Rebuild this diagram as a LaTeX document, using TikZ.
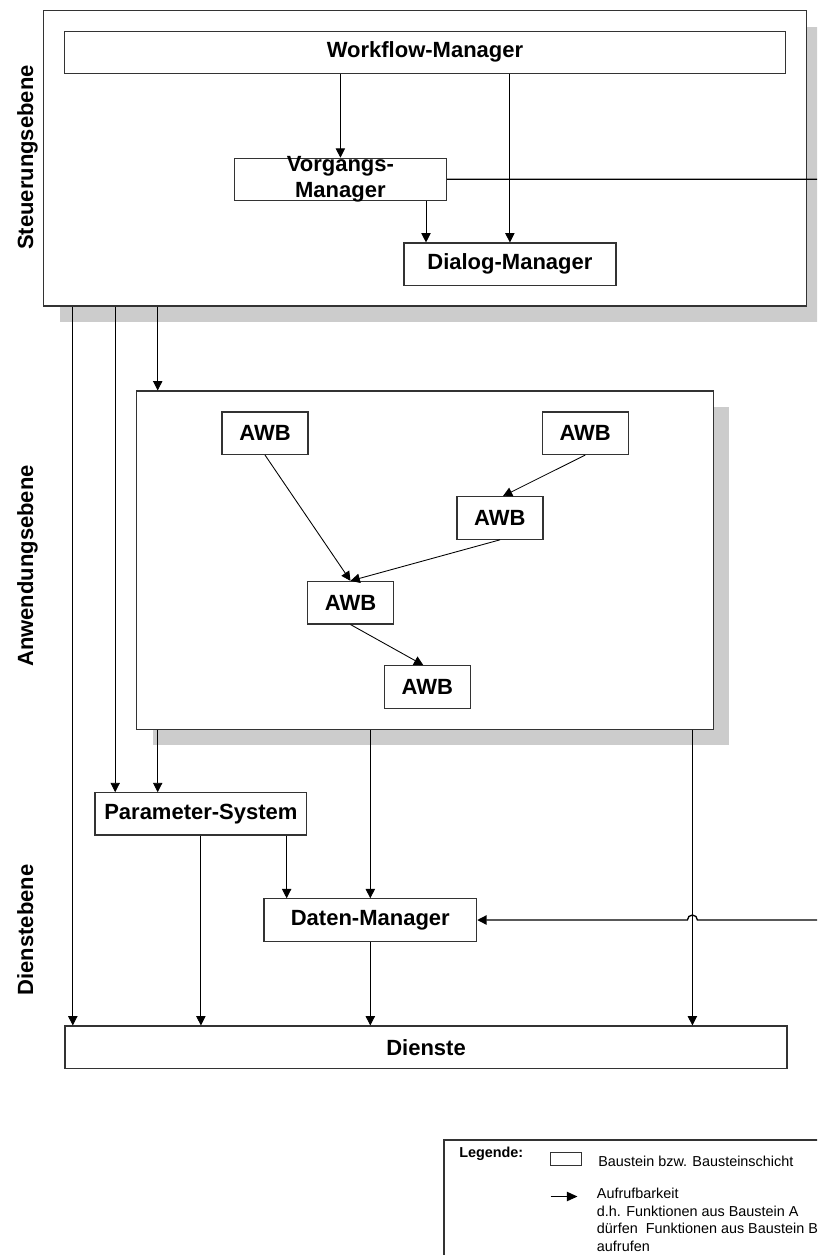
\documentclass[tikz,border=0pt]{standalone}
\usepackage{fontspec}
\setmainfont{Liberation Sans}
\usetikzlibrary{arrows.meta,calc}
\definecolor{shadowgray}{HTML}{CCCCCC}
\definecolor{framegray}{HTML}{333333}
\newcommand{\pxu}{0.75pt}

\begin{document}
\begin{tikzpicture}[x=0.75pt,y=0.75pt,
  box/.style={draw=framegray,line width=0.9pt,fill=white,rectangle,inner sep=0pt,
    font=\fontsize{16.5}{20}\selectfont\bfseries},
  smallbox/.style={box,minimum width=212*\pxu,minimum height=42.3*\pxu},
  awb/.style={box,minimum width=86*\pxu,minimum height=42.5*\pxu},
  layer/.style={draw=framegray,line width=0.9pt,fill=white,inner sep=0pt},
  shade/.style={fill=shadowgray,draw=none},
  arr/.style={line width=0.65pt,-{Triangle[length=7pt,width=7pt]}},
  conn/.style={line width=1pt,-{Triangle[length=7pt,width=7pt]}},
  side/.style={rotate=90,anchor=base,inner sep=0pt,font=\fontsize{16.5}{20}\selectfont\bfseries},
  legtext/.style={anchor=base west,inner sep=0pt,font=\fontsize{10.8}{13.3}\selectfont}
]
\useasboundingbox (0,0) rectangle (817,-1255);
\clip (0,0) rectangle (817,-1255);

% layer shadows
\fill[shade] (59.75,-26.7) rectangle (822.8,-322);
\fill[shade] (152.8,-407) rectangle (729.4,-745.3);

% layers
\node[layer,minimum width=763*\pxu,minimum height=295.3*\pxu] (l1) at (425.3,-158.35) {};
\node[layer,minimum width=576.6*\pxu,minimum height=338.3*\pxu] (awbl) at (425.1,-560.2) {};

% side labels
\node[side] (lab1) at (33,-157.5) {Steuerungsebene};
\node[side] (lab2) at (33,-566) {Anwendungsebene};
\node[side] (lab3) at (33,-930) {Dienstebene};

% control layer
\node[box,minimum width=720.8*\pxu,minimum height=42*\pxu] (wf) at (425,-52.3) {Workflow-Manager};
\node[box,minimum width=212*\pxu,minimum height=42*\pxu] (vm) at (340.4,-179.3) {};
\node[font=\fontsize{16.5}{20}\selectfont\bfseries,align=center,inner sep=0pt] (vmtext) at (vm.center) {Vorgangs-\\Manager};
\node[smallbox] (dlg) at (509.9,-264.2) {Dialog-Manager};

% application layer
\node[awb] (a1) at (265,-433.2) {AWB};
\node[awb] (a2) at (585.2,-433.2) {AWB};
\node[awb] (a3) at (499.9,-518) {AWB};
\node[awb] (a4) at (350.5,-602.7) {AWB};
\node[awb] (a5) at (427.3,-687) {AWB};

% service layer
\node[smallbox,minimum width=211.7*\pxu] (param) at (200.9,-813.9) {Parameter-System};
\node[smallbox,minimum width=212.7*\pxu] (dat) at (370.3,-920) {Daten-Manager};
\node[box,minimum width=722*\pxu,minimum height=42.3*\pxu] (dienste) at (426,-1047.2) {Dienste};

% calls inside the control layer
\draw[arr] (wf.south -| vm.north) -- (vm.north);
\draw[arr] (wf.south -| dlg.north) -- (dlg.north);
\draw[arr] ($(vm.south east)+(-21,0)$) coordinate (vmd) -- (vmd |- dlg.north);

% calls from the control layer
\draw[arr] ($(l1.south west)+(29.6,0)$) coordinate (c1) -- (c1 |- dienste.north);
\draw[arr] ($(l1.south west)+(72,0)$) coordinate (c2) -- (c2 |- param.north);
\draw[arr] ($(l1.south west)+(114.5,0)$) coordinate (c3) -- (c3 |- awbl.north);

% calls inside the application layer
\draw[arr] (a1.south) -- (a4.north);
\draw[arr] (a2.south) -- ($(a3.north)+(3,0)$);
\draw[arr] (a3.south) -- (a4.north);
\draw[arr] (a4.south) -- ($(a5.north)+(-4,0)$);

% calls from the application layer
\draw[arr] (c3 |- awbl.south) -- (c3 |- param.north);
\draw[arr] (awbl.south -| dat.north) -- (dat.north);
\draw[arr] ($(awbl.south east)+(-21.6,0)$) coordinate (vx) -- (vx |- dienste.north);

% calls inside the service layer
\draw[arr] (param.south) -- (param.south |- dienste.north);
\draw[arr] ($(param.south east)+(-20.7,0)$) coordinate (pd) -- (pd |- dat.north);
\draw[arr] (dat.south) -- (dat.south |- dienste.north);

% Vorgangs-Manager to Daten-Manager, routed along the right rim
\coordinate (rim) at (835,0);
\coordinate (hop) at (vx |- dat.east);
\draw[conn] (vm.east) -- (vm.east -| rim) -- (rim |- dat.east)
  -- ($(hop)+(5,0)$) arc[start angle=0,end angle=180,radius=3.75pt] -- (dat.east);

% legend
\node[layer,anchor=north west,minimum width=400*\pxu,minimum height=140*\pxu] (legend) at (443.3,-1139.3) {};
\node[legtext,font=\fontsize{10.8}{13.3}\selectfont\bfseries] (lgtitle) at (459,-1157) {Legende:};
\node[draw=framegray,line width=0.75pt,anchor=north west,inner sep=0pt,
  minimum width=31*\pxu,minimum height=13*\pxu] (lgbox) at (550,-1152) {};
\node[legtext] (lgboxtxt) at (598,-1166.8) {Baustein bzw. Bausteinschicht};
\coordinate (lga) at (550.7,-1196.5);
\coordinate (lgb) at (577.5,-1196.5);
\draw[line width=1pt,-{Triangle[length=8pt,width=7pt]}] (lga) -- (lgb);
\node[legtext] (lg1) at (596.7,-1198.5) {Aufrufbarkeit};
\node[legtext] (lg2) at (596.7,-1216.2) {d.h. Funktionen aus Baustein A};
\node[legtext] (lg3) at (596.7,-1233.8) {dürfen\ \ Funktionen aus Baustein B};
\node[legtext] (lg4) at (596.7,-1251) {aufrufen};
\end{tikzpicture}
\end{document}
